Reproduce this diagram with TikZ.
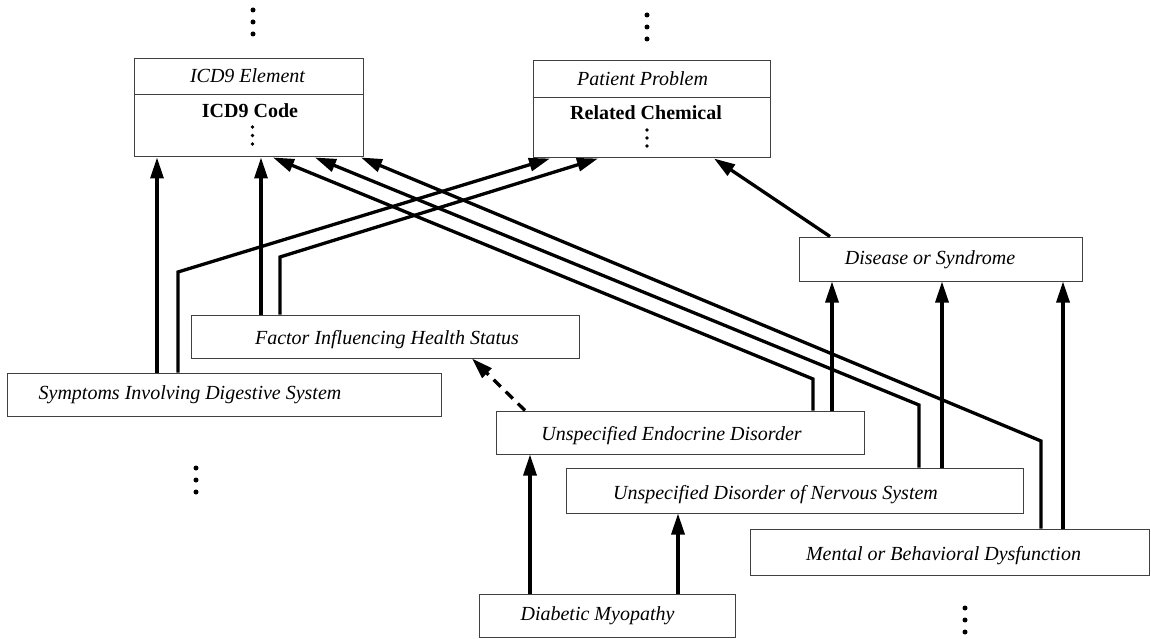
\documentclass[tikz,border=0pt]{standalone}
\usepackage{fontspec}
\setmainfont{Liberation Serif}
\usetikzlibrary{arrows.meta}
\begin{document}
\begin{tikzpicture}[x=1pt,y=-1pt,
  box/.style={draw=black!75, line width=1pt, fill=white, inner sep=0pt},
  lab/.style={anchor=base, inner sep=0pt, font=\fontsize{20}{24}\selectfont\itshape},
  head/.style={anchor=base, inner sep=0pt, font=\fontsize{20}{24}\selectfont\bfseries},
  link/.style={line width=3.3pt, line join=miter, -{Triangle[length=21pt,width=13pt]}},
  bigdot/.style={circle, fill, inner sep=0pt, minimum size=5pt},
  smalldot/.style={circle, fill, inner sep=0pt, minimum size=3.6pt}
]
\useasboundingbox (0,0) rectangle (1151,639);

% ---------- class boxes ----------
\node[box, minimum width=229pt, minimum height=98pt] (icd) at (248.5,108) {};
\node[box, minimum width=237pt, minimum height=97pt] (pat) at (651.5,109.5) {};
\node[box, minimum width=283pt, minimum height=44pt] (dis) at (940.5,259) {};
\node[box, minimum width=388pt, minimum height=43pt] (fac) at (385,336.5) {};
\node[box, minimum width=434pt, minimum height=43pt] (sym) at (224,394.5) {};
\node[box, minimum width=368pt, minimum height=43pt] (endo) at (680,432.5) {};
\node[box, minimum width=457pt, minimum height=45pt] (nerv) at (794.5,490.5) {};
\node[box, minimum width=399pt, minimum height=46pt] (ment) at (949.5,552) {};
\node[box, minimum width=256pt, minimum height=43pt] (dia) at (607,615.5) {};

% compartment lines of the two record boxes
\coordinate (icdDiv) at (0,95);
\coordinate (patDiv) at (0,98);
\draw[draw=black!75, line width=1pt] (icd.west |- icdDiv) -- (icd.east |- icdDiv);
\draw[draw=black!75, line width=1pt] (pat.west |- patDiv) -- (pat.east |- patDiv);

% ---------- labels ----------
\node[lab]  (icdT)  at (247.5,83)  {ICD9 Element};
\node[head] (icdB)  at (250,118)   {ICD9 Code};
\node[lab]  (patT)  at (642.5,86)  {Patient Problem};
\node[head] (patB)  at (646,120)   {Related Chemical};
\node[lab]  (disT)  at (930,264)   {Disease or Syndrome};
\node[lab]  (facT)  at (387,344)   {Factor Influencing Health Status};
\node[lab]  (symT)  at (190,399)   {Symptoms Involving Digestive System};
\node[lab]  (endoT) at (671.5,440) {Unspecified Endocrine Disorder};
\node[lab]  (nervT) at (775.5,499) {Unspecified Disorder of Nervous System};
\node[lab]  (mentT) at (943.5,560) {Mental or Behavioral Dysfunction};
\node[lab]  (diaT)  at (597.5,620) {Diabetic Myopathy};

% ---------- ellipsis dots ----------
\foreach \y [count=\i] in {10,22,34}  {\node[bigdot] (icdUp\i) at (253,\y) {};}
\foreach \y [count=\i] in {15,27,39}  {\node[bigdot] (patUp\i) at (647,\y) {};}
\foreach \y [count=\i] in {468,480,492} {\node[bigdot] (leftDn\i) at (196,\y) {};}
\foreach \y [count=\i] in {608,620,632} {\node[bigdot] (rightDn\i) at (965,\y) {};}
\foreach \y [count=\i] in {127,135.5,144} {\node[smalldot] (icdIn\i) at (252.5,\y) {};}
\foreach \y [count=\i] in {130,138,146} {\node[smalldot] (patIn\i) at (647,\y) {};}

% ---------- connector columns and bends ----------
\coordinate (xSymA) at (157,0);
\coordinate (xFacA) at (261,0);
\coordinate (xEndoD) at (832,0);
\coordinate (xNervD) at (942,0);
\coordinate (xMentD) at (1063,0);
\coordinate (xDiaE) at (530,0);
\coordinate (xDiaN) at (678,0);

\coordinate (bSym)  at (178,272);
\coordinate (bFac)  at (280,257);
\coordinate (bEndo) at (813,379);
\coordinate (bNerv) at (919,405);
\coordinate (bMent) at (1041,441);

\coordinate (tPat1) at (550,0);
\coordinate (tPat2) at (598,0);
\coordinate (tPat3) at (714,0);
\coordinate (tIcd1) at (273,0);
\coordinate (tIcd2) at (315,0);
\coordinate (tIcd3) at (361,0);
\coordinate (sDis)  at (830,0);
\coordinate (sEndo) at (525,0);
\coordinate (tFac)  at (472,0);

% ---------- straight links ----------
\draw[link] (sym.north -| xSymA) -- (icd.south -| xSymA);
\draw[link] (fac.north -| xFacA) -- (icd.south -| xFacA);
\draw[link] (endo.north -| xEndoD) -- (dis.south -| xEndoD);
\draw[link] (nerv.north -| xNervD) -- (dis.south -| xNervD);
\draw[link] (ment.north -| xMentD) -- (dis.south -| xMentD);
\draw[link] (dia.north -| xDiaE) -- (endo.south -| xDiaE);
\draw[link] (dia.north -| xDiaN) -- (nerv.south -| xDiaN);
\draw[link] (dis.north -| sDis) -- (pat.south -| tPat3);

% ---------- bent links ----------
\draw[link] (sym.north -| bSym) -- (bSym) -- (pat.south -| tPat1);
\draw[link] (fac.north -| bFac) -- (bFac) -- (pat.south -| tPat2);
\draw[link] (endo.north -| bEndo) -- (bEndo) -- (icd.south -| tIcd1);
\draw[link] (nerv.north -| bNerv) -- (bNerv) -- (icd.south -| tIcd2);
\draw[link] (ment.north -| bMent) -- (bMent) -- (icd.south -| tIcd3);

% ---------- dashed link ----------
\draw[link, dash pattern=on 10pt off 7pt] (endo.north -| sEndo) -- (fac.south -| tFac);
\end{tikzpicture}
\end{document}
